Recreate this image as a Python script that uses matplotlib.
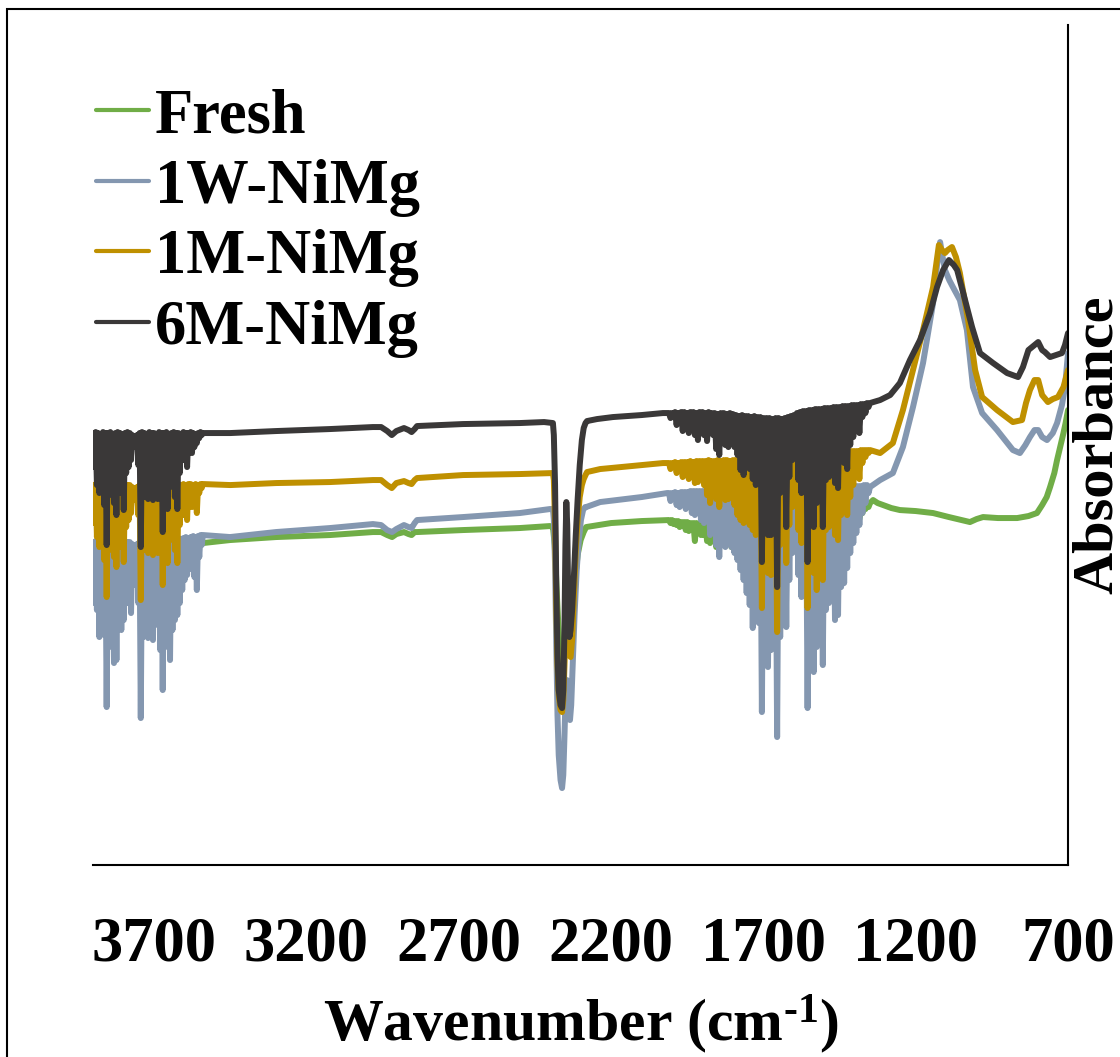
import numpy as np
import matplotlib.pyplot as plt
from matplotlib.patches import Rectangle

plt.rcParams['font.family'] = 'Liberation Serif'
plt.rcParams['font.weight'] = 'bold'
plt.rcParams['axes.labelweight'] = 'bold'
plt.rcParams['mathtext.fontset'] = 'custom'
plt.rcParams['mathtext.rm'] = 'Liberation Serif:bold'
plt.rcParams['mathtext.it'] = 'Liberation Serif:bold'
plt.rcParams['mathtext.bf'] = 'Liberation Serif:bold'

labels = ['Fresh', '1W-NiMg', '1M-NiMg', '6M-NiMg']
colors = ['#70AD47', '#8497B0', '#BF9000', '#3A3838']
xticks = [3700, 3200, 2700, 2200, 1700, 1200, 700]

# ---- water vapour band 3900-3540 cm-1 (baseline points / spike tips)
r1_top_wn = [3900, 3892, 3884, 3876, 3868, 3860, 3852, 3844, 3836, 3828, 3820, 3812,
             3804, 3796, 3788, 3780, 3772, 3764, 3756, 3748, 3740, 3732, 3724, 3716,
             3708, 3700, 3692, 3684, 3676, 3668, 3660, 3652, 3644, 3636, 3628, 3620,
             3612, 3604, 3596, 3588, 3580, 3572, 3564, 3556, 3548, 3540]
r1_tip_wn = [3896, 3888, 3880, 3872, 3864, 3856, 3848, 3840, 3832, 3824, 3816, 3808,
             3800, 3792, 3784, 3776, 3768, 3760, 3752, 3744, 3736, 3728, 3720, 3712,
             3704, 3696, 3688, 3680, 3672, 3664, 3656, 3648, 3640, 3632, 3624, 3616,
             3608, 3600, 3592, 3584, 3576, 3568, 3560, 3552, 3544]

w1_top = [323, 324, 322, 323, 324, 323, 322, 324, 323, 323, 324, 322, 323, 324, 323, 323,
          321, 320, 321, 323, 324, 323, 322, 324, 323, 324, 323, 324, 325, 324, 325, 324,
          326, 325, 326, 327, 326, 327, 328, 327, 328, 329, 328, 329, 330, 330]
w1_tip = [262, 255, 228, 250, 230, 158, 218, 232, 202, 205, 245, 235, 245, 262, 262, 252,
          280, 285, 262, 147, 228, 232, 227, 235, 225, 245, 240, 215, 175, 218, 232, 205,
          235, 245, 250, 262, 275, 285, 290, 296, 302, 288, 275, 308, 320]
m1_top = [380, 381, 379, 380, 381, 380, 379, 381, 380, 380, 381, 379, 380, 381, 380, 380,
          378, 377, 378, 380, 381, 380, 379, 381, 380, 380, 379, 381, 380, 380, 381, 379,
          380, 381, 380, 381, 380, 381, 380, 381, 381, 380, 381, 380, 381, 381]
m1_tip = [342, 328, 318, 340, 305, 268, 315, 330, 308, 298, 335, 318, 303, 338, 345, 352,
          365, 370, 350, 265, 322, 315, 312, 320, 310, 332, 312, 330, 280, 330, 302, 325,
          332, 315, 302, 340, 350, 350, 345, 360, 358, 365, 352, 372, 377]
s1_top = [432, 433, 432, 431, 433, 432, 432, 433, 431, 432, 433, 432, 431, 432, 433, 432,
          430, 429, 430, 432, 433, 432, 431, 433, 432, 432, 431, 433, 432, 432, 433, 431,
          432, 433, 432, 432, 431, 433, 432, 432, 433, 432, 431, 432, 433, 432]
s1_tip = [398, 380, 372, 392, 360, 320, 370, 382, 362, 350, 388, 372, 355, 392, 398, 405,
          418, 422, 400, 318, 375, 368, 366, 372, 365, 385, 366, 382, 333, 382, 356, 378,
          384, 368, 356, 392, 405, 405, 398, 414, 412, 418, 422, 427, 430]

# ---- water vapour band 2010-1350 cm-1
r2_top_wn = [2010, 2000, 1990, 1980, 1970, 1960, 1950, 1940, 1930, 1920, 1910, 1900,
             1890, 1880, 1870, 1860, 1850, 1840, 1830, 1820, 1810, 1800, 1790, 1780,
             1770, 1760, 1750, 1740, 1730, 1720, 1710, 1700, 1690, 1680, 1670, 1660,
             1650, 1640, 1630, 1620, 1610, 1600, 1590, 1580, 1570, 1560, 1550, 1540,
             1530, 1520, 1510, 1500, 1490, 1480, 1470, 1460, 1450, 1440, 1430, 1420,
             1410, 1400, 1390, 1380, 1370, 1360, 1350]
r2_tip_wn = [2005, 1995, 1985, 1975, 1965, 1955, 1945, 1935, 1925, 1915, 1905, 1895,
             1885, 1875, 1865, 1855, 1845, 1835, 1825, 1815, 1805, 1795, 1785, 1775,
             1765, 1755, 1745, 1735, 1725, 1715, 1705, 1695, 1685, 1675, 1665, 1655,
             1645, 1635, 1625, 1615, 1605, 1595, 1585, 1575, 1565, 1555, 1545, 1535,
             1525, 1515, 1505, 1495, 1485, 1475, 1465, 1455, 1445, 1435, 1425, 1415,
             1405, 1395, 1385, 1375, 1365, 1355]

f2_top = [345, 345, 344, 344, 343, 343, 343, 342, 342, 342, 341, 341, 340, 340, 339, 339,
          339, 338, 338, 338, 338, 338, 337, 337, 337, 336, 336, 336, 336, 336, 336, 336,
          336, 336, 336, 336, 336, 336, 336, 337, 337, 337, 337, 338, 338, 338, 338, 339,
          339, 339, 339, 340, 340, 340, 341, 341, 342, 342, 343, 344, 345, 346, 350, 354,
          357, 360, 362]
f2_tip = [342, 341, 340, 338, 339, 335, 334, 336, 324, 332, 330, 330, 324, 322, 325, 318,
          322, 326, 320, 322, 318, 316, 314, 312, 310, 306, 308, 300, 305, 300, 270, 295,
          285, 290, 295, 262, 298, 300, 290, 312, 322, 334, 310, 305, 308, 275, 305, 292,
          300, 305, 290, 312, 315, 318, 310, 312, 322, 325, 326, 332, 336, 342, 346, 352,
          356, 358]
w2_top = [372, 372, 373, 372, 373, 373, 373, 374, 374, 374, 374, 374, 374, 375, 375, 375,
          375, 375, 376, 376, 376, 376, 376, 376, 376, 377, 377, 377, 377, 377, 377, 377,
          377, 377, 378, 378, 378, 378, 378, 378, 378, 378, 378, 378, 378, 378, 378, 378,
          378, 378, 378, 378, 378, 378, 378, 378, 378, 378, 378, 379, 379, 379, 379, 379,
          380, 380, 378]
w2_tip = [364, 366, 360, 358, 361, 356, 358, 352, 350, 352, 345, 342, 345, 330, 336, 320,
          308, 330, 318, 322, 318, 312, 305, 295, 285, 272, 260, 237, 262, 242, 153, 228,
          198, 215, 222, 128, 228, 240, 238, 285, 312, 370, 290, 268, 275, 157, 232, 193,
          218, 240, 200, 255, 262, 265, 245, 250, 278, 282, 297, 312, 322, 332, 340, 352,
          362, 372]
m2_top = [402, 402, 403, 402, 403, 403, 403, 404, 403, 404, 404, 404, 404, 405, 404, 404,
          405, 404, 405, 405, 404, 405, 405, 405, 404, 405, 405, 404, 405, 405, 404, 405,
          405, 404, 405, 405, 404, 405, 406, 406, 407, 407, 408, 408, 409, 409, 410, 410,
          410, 411, 411, 411, 412, 412, 412, 413, 413, 413, 413, 414, 414, 414, 414, 415,
          415, 415, 415]
m2_tip = [396, 398, 392, 396, 388, 390, 386, 391, 382, 383, 386, 380, 370, 362, 378, 366,
          358, 372, 365, 366, 368, 360, 350, 345, 342, 348, 340, 335, 330, 336, 257, 318,
          292, 290, 305, 233, 320, 325, 302, 340, 358, 398, 335, 322, 328, 257, 322, 292,
          275, 320, 285, 335, 338, 340, 330, 325, 350, 355, 350, 368, 380, 392, 386, 402,
          408, 412]
s2_top = [452, 452, 453, 452, 453, 453, 452, 453, 453, 452, 453, 453, 452, 453, 452, 452,
          451, 452, 452, 451, 452, 451, 450, 449, 450, 449, 449, 448, 449, 448, 448, 447,
          447, 447, 446, 447, 447, 446, 447, 448, 449, 450, 452, 453, 454, 454, 455, 455,
          456, 456, 456, 457, 457, 457, 458, 458, 458, 459, 459, 459, 460, 460, 460, 461,
          461, 462, 462]
s2_tip = [447, 448, 440, 446, 434, 440, 432, 440, 430, 425, 436, 430, 424, 438, 430, 416,
          410, 428, 420, 418, 430, 418, 410, 395, 390, 398, 396, 386, 380, 385, 303, 372,
          330, 330, 362, 278, 372, 375, 338, 388, 405, 440, 385, 372, 376, 303, 372, 338,
          362, 372, 338, 385, 388, 390, 382, 377, 405, 402, 396, 420, 428, 438, 432, 448,
          452, 458]

# ---- smooth parts: 3540-2010 (with CO2 doublet) and 1350-700
f_a_wn = [3900, 3700, 3540, 3451, 3300, 3123, 2982, 2955, 2935, 2919, 2905, 2880, 2865,
          2855, 2845, 2837, 2686, 2500, 2401, 2391, 2385, 2378, 2370, 2361, 2353, 2347,
          2341, 2336, 2330, 2320, 2310, 2300, 2290, 2282, 2200, 2100, 2010]
f_a = [318, 320, 322, 325, 328, 330, 333, 333, 330, 328, 331, 333, 331, 330, 333, 333,
       335, 337, 339, 338, 320, 270, 220, 190, 210, 240, 220, 210, 235, 280, 310, 325,
       333, 338, 342, 344, 345]
w_a_wn = [3540, 3451, 3300, 3123, 2982, 2955, 2935, 2919, 2905, 2880, 2865, 2855, 2845,
          2837, 2686, 2500, 2401, 2391, 2388, 2384, 2380, 2376, 2372, 2366, 2361, 2357,
          2353, 2349, 2345, 2341, 2338, 2335, 2331, 2326, 2320, 2313, 2306, 2299, 2292,
          2285, 2282, 2236, 2100, 2016, 2010]
w_a = [330, 328, 333, 337, 341, 340, 335, 333, 336, 340, 338, 337, 342, 345, 348, 352,
       356, 356, 345, 300, 220, 150, 110, 85, 77, 90, 130, 175, 185, 160, 148, 145, 160,
       200, 250, 295, 325, 345, 355, 358, 358, 363, 368, 372, 372]
m_a_wn = [3540, 3450, 3300, 3123, 2982, 2955, 2935, 2920, 2905, 2880, 2865, 2855, 2845,
          2837, 2686, 2500, 2401, 2391, 2388, 2384, 2380, 2376, 2372, 2366, 2361, 2357,
          2353, 2349, 2345, 2341, 2337, 2333, 2328, 2322, 2316, 2310, 2303, 2296, 2290,
          2284, 2279, 2236, 2100, 2030, 2010]
m_a = [381, 380, 382, 383, 385, 385, 380, 377, 382, 384, 382, 381, 385, 387, 390, 391,
       392, 392, 385, 340, 260, 200, 170, 155, 153, 165, 200, 240, 255, 230, 210, 208,
       225, 270, 315, 345, 368, 380, 386, 390, 393, 396, 400, 402, 402]
s_a_wn = [3540, 3450, 3300, 3123, 2982, 2955, 2935, 2920, 2905, 2880, 2865, 2855, 2845,
          2837, 2686, 2500, 2420, 2391, 2388, 2384, 2380, 2376, 2372, 2366, 2361, 2357,
          2353, 2350, 2347, 2344, 2341, 2337, 2333, 2328, 2322, 2316, 2310, 2303, 2296,
          2290, 2284, 2279, 2246, 2194, 2100, 2030, 2010]
s_a = [432, 432, 434, 436, 438, 438, 434, 430, 434, 437, 435, 433, 436, 439, 441, 442,
       443, 442, 430, 380, 280, 210, 175, 160, 157, 175, 240, 320, 363, 340, 270, 228,
       235, 255, 290, 330, 365, 400, 425, 437, 442, 444, 446, 448, 450, 452, 452]

f_c_wn = [1350, 1340, 1325, 1307, 1280, 1252, 1200, 1143, 1091, 1050, 1022, 1000, 979,
          930, 867, 830, 802, 785, 770, 759, 745, 736, 726, 715, 708, 700]
f_c = [362, 365, 362, 360, 357, 355, 354, 352, 348, 345, 343, 346, 348, 347, 347, 349,
       352, 360, 368, 378, 392, 405, 418, 432, 442, 455]
w_c_wn = [1350, 1317, 1275, 1242, 1209, 1176, 1143, 1130, 1120, 1110, 1104, 1090, 1078,
          1055, 1032, 1012, 982, 933, 881, 858, 840, 825, 810, 798, 785, 769, 750, 736,
          720, 710, 700]
w_c = [378, 385, 392, 418, 458, 502, 562, 600, 623, 605, 595, 585, 578, 565, 535, 478,
       452, 435, 415, 412, 420, 428, 435, 435, 428, 425, 432, 442, 460, 478, 512]
m_c_wn = [1350, 1317, 1275, 1242, 1209, 1176, 1143, 1124, 1114, 1104, 1095, 1081, 1068,
          1055, 1028, 1005, 982, 933, 881, 851, 838, 825, 810, 798, 785, 766, 750, 733,
          715, 700]
m_c = [415, 412, 422, 455, 495, 535, 578, 620, 615, 612, 615, 618, 608, 592, 545, 495,
       468, 455, 443, 445, 462, 475, 485, 485, 470, 463, 466, 468, 478, 495]
s_c_wn = [1350, 1317, 1284, 1252, 1219, 1186, 1153, 1130, 1110, 1091, 1075, 1064, 1038,
          1015, 989, 946, 900, 864, 848, 830, 818, 798, 785, 776, 759, 740, 720, 710, 700]
s_c = [462, 465, 470, 482, 505, 525, 552, 578, 595, 605, 600, 595, 565, 538, 512, 502,
       492, 488, 498, 515, 518, 523, 515, 513, 508, 510, 512, 520, 532]


def zigzag(top_wn, tip_wn, top, tip):
    x = np.empty(len(top_wn) + len(tip_wn))
    y = np.empty_like(x)
    x[0::2], x[1::2] = top_wn, tip_wn
    y[0::2], y[1::2] = top, tip
    return x, y


series = []
x2, y2 = zigzag(r2_top_wn, r2_tip_wn, f2_top, f2_tip)
series.append((np.r_[f_a_wn, x2, f_c_wn], np.r_[f_a, y2, f_c]))
for t1, p1, a_wn, a, t2, p2, c_wn, c in [
        (w1_top, w1_tip, w_a_wn, w_a, w2_top, w2_tip, w_c_wn, w_c),
        (m1_top, m1_tip, m_a_wn, m_a, m2_top, m2_tip, m_c_wn, m_c),
        (s1_top, s1_tip, s_a_wn, s_a, s2_top, s2_tip, s_c_wn, s_c)]:
    x1, y1 = zigzag(r1_top_wn, r1_tip_wn, t1, p1)
    x2, y2 = zigzag(r2_top_wn, r2_tip_wn, t2, p2)
    series.append((np.r_[x1, a_wn, x2, c_wn], np.r_[y1, a, y2, c]))

fig = plt.figure(figsize=(11.2, 10.57), dpi=100)
ax = fig.add_axes([0.083, 0.1816, 0.8706, 0.7947])

for (x, y), lab, col in zip(series, labels, colors):
    ax.plot(x, y / 1000, color=col, lw=4.3, label=lab,
            solid_joinstyle='round', solid_capstyle='round')

ax.set_xlim(3901, 700)
ax.set_ylim(0, 0.84)
ax.set_xticks(xticks)
ax.set_yticks([])
for s in ['top', 'left']:
    ax.spines[s].set_visible(False)
for s in ['right', 'bottom']:
    ax.spines[s].set_linewidth(1.5)
ax.tick_params(axis='x', length=0, pad=37, labelsize=45)
ax.set_xlabel(r'Wavenumber (cm$^{\text{-}1}$)', fontsize=43, fontweight='bold', labelpad=13)
ax.yaxis.set_label_position('right')
ax.set_ylabel('Absorbance', fontsize=42, fontweight='bold', labelpad=3)

leg = ax.legend(loc='upper left', bbox_to_anchor=(0.003, 0.925), frameon=False,
                fontsize=45, handlelength=0.85, handletextpad=0.1, labelspacing=0.2,
                borderpad=0, borderaxespad=0)
for h in leg.get_lines():
    h.set_linewidth(3)

fig.add_artist(Rectangle((7 / 1120, -0.5), 2, 1.5 - 9 / 1057, transform=fig.transFigure,
                         fill=False, lw=1.5, ec='black', clip_on=False))

fig.savefig('out.png', dpi=100)
